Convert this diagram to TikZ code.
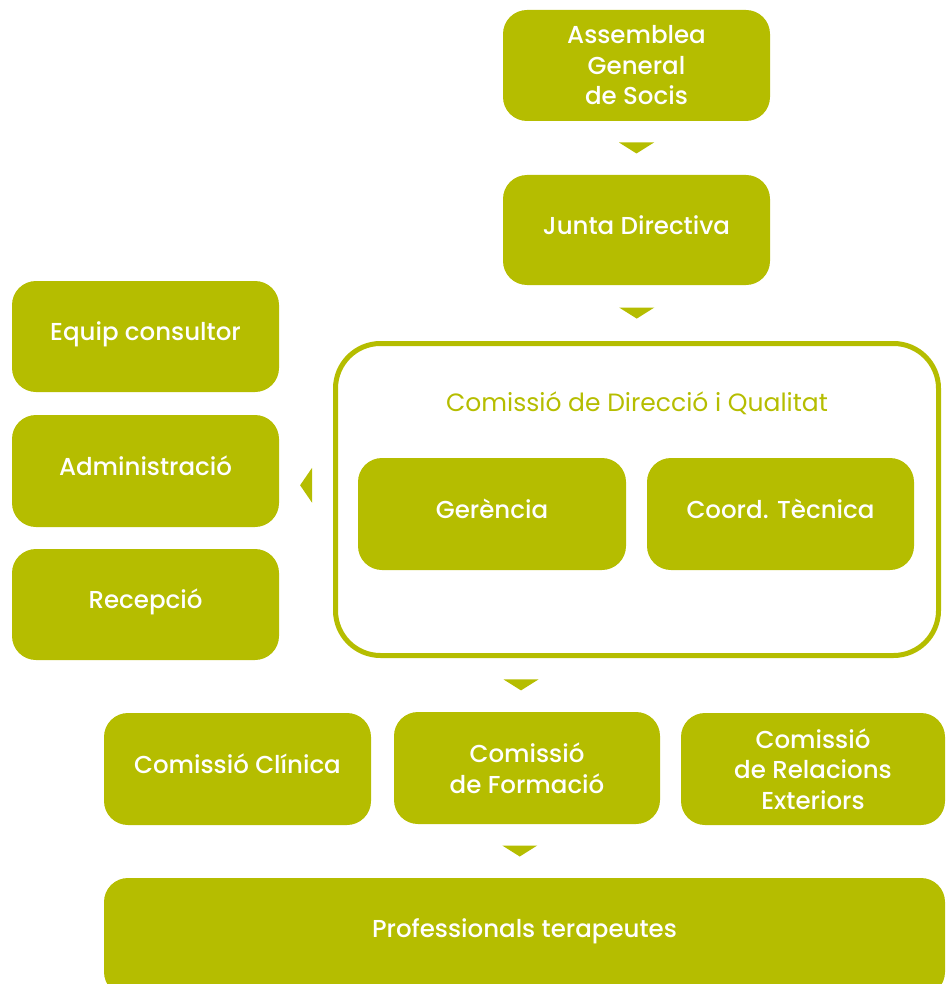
\documentclass[tikz,border=0pt]{standalone}
\usepackage{fontspec}
\setmainfont{Poppins}[UprightFont=* Medium]
\newfontfamily\popreg{Poppins}
\usetikzlibrary{calc}
\definecolor{olive}{RGB}{181,189,0}
\tikzset{
  box/.style={fill=olive, rounded corners=24pt, text=white, align=center, font=\fontsize{24.5}{30.5}\selectfont, inner sep=0pt},
  onebox/.style={box, text height=18pt, text depth=10pt},
  tri/.style={fill=olive},
}
\begin{document}
\begin{tikzpicture}[x=1pt,y=-1pt]
\useasboundingbox (0,0) rectangle (945,984);
\clip (0,0) rectangle (945,984);
% top
\node[box, minimum width=267pt, minimum height=111pt] (ags) at (636.5,65.5) {Assemblea\\General\\de Socis};
\node[onebox, minimum width=267pt, minimum height=110pt] (jd) at (636.5,230) {Junta Directiva};
% outline
\node[draw=olive, line width=5pt, rounded corners=45pt, minimum width=603pt, minimum height=312pt, inner sep=0pt] (cdq) at (637,499.5) {};
\node[text=olive, font=\popreg\fontsize{25}{30}\selectfont] (cdqt) at (637,403) {Comissió de Direcció i Qualitat};
\node[onebox, minimum width=268pt, minimum height=112pt] (ger) at (492,514) {Gerència};
\node[onebox, minimum width=267pt, minimum height=112pt] (ct) at (780.5,514) {Coord. Tècnica};
% left
\node[onebox, minimum width=267pt, minimum height=111pt] (eq) at (145.5,336.5) {Equip consultor};
\node[onebox, minimum width=267pt, minimum height=112pt] (adm) at (145.5,471) {Administració};
\node[onebox, minimum width=267pt, minimum height=111pt] (rec) at (145.5,604.5) {Recepció};
% bottom row
\node[onebox, minimum width=267pt, minimum height=112pt] (cc) at (237.5,769) {Comissió Clínica};
\node[box, minimum width=266pt, minimum height=112pt] (cf) at (527,768) {Comissió\\de Formació};
\node[box, minimum width=264pt, minimum height=112pt] (cre) at (813,769) {Comissió\\de Relacions\\Exteriors};
\node[box, text height=18pt, text depth=17pt, minimum width=841pt, minimum height=118pt] (pt) at (524.5,937) {Professionals terapeutes};
% triangles
\coordinate (t1) at ($(ags.south)!0.5!(jd.north)$);
\fill[tri] (t1) ++(-17.5,-5.5) -- ++(35,0) -- ++(-17.5,11) -- cycle;
\coordinate (t2) at ($(jd.south)!0.5!(cdq.north)$);
\fill[tri] (t2) ++(-17.5,-5.5) -- ++(35,0) -- ++(-17.5,11) -- cycle;
\coordinate (t3) at ($(cf.north |- cdq.south)!0.5!(cf.north) + (-6,0)$);
\fill[tri] (t3) ++(-17.5,-5.5) -- ++(35,0) -- ++(-17.5,11) -- cycle;
\coordinate (t4) at ($(cf.south)!0.5!(pt.north) + (-6,0)$);
\fill[tri] (t4) ++(-17.5,-5.5) -- ++(35,0) -- ++(-17.5,11) -- cycle;
\coordinate (t5) at ($(adm.east)!0.5!(cdq.west)$);
\fill[tri] (t5) ++(6,-17.5) -- ++(0,35) -- ++(-12,-17.5) -- cycle;
\end{tikzpicture}
\end{document}
